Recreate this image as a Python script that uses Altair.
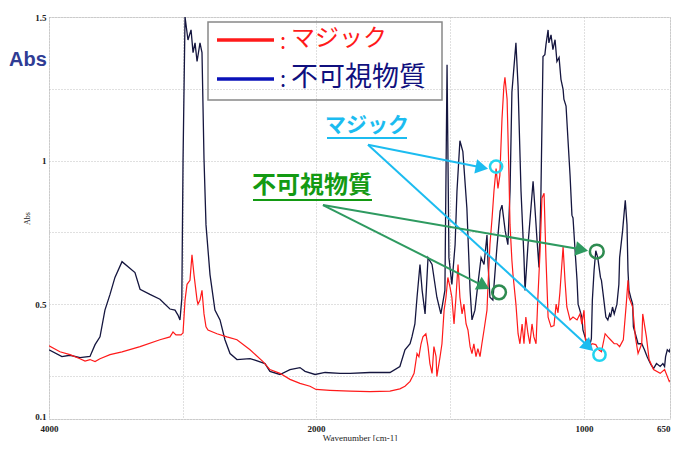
import altair as alt
import pandas as pd

# ---- spectrum data (wavenumber cm-1, Abs) ----
navy_wn = [4000, 3903, 3843, 3768, 3693, 3655, 3618, 3581, 3543, 3506,
           3453, 3356, 3318, 3244, 3169, 3094, 3056, 3034, 3019, 3005,
           2996, 2981, 2959, 2936, 2921, 2906, 2891, 2869, 2854, 2839,
           2824, 2794, 2757, 2719, 2682, 2644, 2592, 2494, 2457, 2382,
           2345, 2270, 2195, 2120, 2082, 2007, 1966, 1910, 1873, 1799,
           1724, 1687, 1668, 1649, 1642, 1631, 1623, 1612, 1604, 1593,
           1582, 1567, 1549, 1534, 1519, 1511, 1504, 1493, 1481, 1474,
           1463, 1452, 1437, 1425, 1418, 1407, 1396, 1384, 1373, 1362,
           1358, 1351, 1340, 1325, 1313, 1306, 1294, 1284, 1276, 1269,
           1254, 1246, 1235, 1224, 1220, 1209, 1198, 1190, 1183, 1175,
           1168, 1161, 1153, 1146, 1142, 1134, 1131, 1123, 1116, 1108,
           1101, 1093, 1086, 1078, 1075, 1067, 1060, 1052, 1045, 1041,
           1034, 1026, 1022, 1008, 1004, 996, 989, 978, 970, 966,
           959, 952, 944, 933, 929, 922, 911, 903, 896, 892,
           884, 877, 866, 858, 855, 843, 836, 832, 825, 821,
           817, 810, 802, 799, 791, 780, 765, 754, 743, 728,
           717, 705, 690, 679, 672, 668, 661, 653, 650]
navy_abs = [0.341, 0.317, 0.322, 0.314, 0.318, 0.359, 0.386, 0.479, 0.534, 0.593,
            0.648, 0.610, 0.552, 0.534, 0.517, 0.483, 0.479, 0.462, 0.445, 0.520,
            1.000, 1.500, 1.420, 1.455, 1.376, 1.410, 1.345, 1.410, 1.376, 1.007,
            0.776, 0.603, 0.479, 0.445, 0.376, 0.328, 0.307, 0.310, 0.305, 0.293,
            0.266, 0.255, 0.272, 0.279, 0.266, 0.255, 0.262, 0.259, 0.259, 0.262,
            0.262, 0.283, 0.341, 0.362, 0.386, 0.431, 0.524, 0.638, 0.548, 0.466,
            0.662, 0.638, 0.524, 0.466, 0.548, 1.334, 0.662, 0.569, 0.707, 0.893,
            1.069, 1.031, 0.834, 0.548, 0.445, 0.479, 0.569, 0.662, 0.638, 0.741,
            0.638, 0.524, 0.514, 0.697, 0.824, 0.845, 0.755, 0.707, 0.893, 1.238,
            1.410, 1.259, 0.893, 0.662, 0.548, 0.707, 0.834, 0.928, 0.834, 0.720,
            0.628, 0.869, 1.362, 1.369, 1.403, 1.455, 1.410, 1.438, 1.386, 1.421,
            1.345, 1.359, 1.283, 1.248, 1.214, 1.190, 1.076, 0.948, 0.810, 0.800,
            0.697, 0.583, 0.500, 0.455, 0.410, 0.386, 0.369, 0.352, 0.380, 0.514,
            0.617, 0.686, 0.662, 0.593, 0.583, 0.534, 0.455, 0.445, 0.466, 0.455,
            0.490, 0.466, 0.500, 0.569, 0.662, 0.755, 0.824, 0.862, 0.776, 0.617,
            0.548, 0.524, 0.500, 0.421, 0.397, 0.362, 0.362, 0.341, 0.317, 0.290,
            0.276, 0.293, 0.283, 0.293, 0.283, 0.317, 0.341, 0.334, 0.345]

red_wn = [4000, 3918, 3843, 3768, 3730, 3693, 3655, 3618, 3543, 3453,
          3318, 3169, 3094, 3071, 3049, 3011, 2996, 2981, 2966, 2944,
          2929, 2914, 2891, 2884, 2869, 2854, 2839, 2824, 2809, 2742,
          2667, 2592, 2494, 2397, 2345, 2270, 2195, 2120, 2045, 2000,
          1948, 1873, 1799, 1724, 1687, 1668, 1649, 1634, 1623, 1616,
          1608, 1601, 1590, 1582, 1575, 1567, 1560, 1552, 1549, 1537,
          1530, 1522, 1515, 1508, 1500, 1493, 1485, 1478, 1470, 1463,
          1455, 1448, 1440, 1433, 1425, 1418, 1411, 1403, 1396, 1388,
          1381, 1373, 1362, 1358, 1351, 1343, 1336, 1328, 1321, 1314,
          1306, 1299, 1295, 1287, 1280, 1276, 1269, 1265, 1254, 1246,
          1239, 1231, 1224, 1217, 1209, 1202, 1194, 1187, 1179, 1172,
          1164, 1157, 1149, 1142, 1134, 1123, 1112, 1104, 1097, 1090,
          1078, 1071, 1064, 1052, 1041, 1026, 1015, 1008, 1000, 992,
          978, 967, 952, 940, 929, 914, 903, 892, 877, 866,
          855, 840, 828, 821, 817, 802, 791, 780, 765, 761,
          746, 735, 717, 690, 672, 653, 650]
red_abs = [0.355, 0.334, 0.324, 0.310, 0.302, 0.307, 0.300, 0.310, 0.324, 0.334,
           0.352, 0.376, 0.386, 0.403, 0.393, 0.393, 0.400, 0.514, 0.569, 0.583,
           0.672, 0.603, 0.514, 0.500, 0.514, 0.548, 0.466, 0.421, 0.410, 0.397,
           0.386, 0.376, 0.341, 0.300, 0.272, 0.259, 0.238, 0.224, 0.214, 0.203,
           0.200, 0.197, 0.195, 0.197, 0.205, 0.214, 0.231, 0.259, 0.328, 0.317,
           0.362, 0.386, 0.397, 0.352, 0.293, 0.259, 0.352, 0.317, 0.248, 0.317,
           0.362, 0.479, 0.524, 0.593, 0.559, 0.524, 0.431, 0.520, 0.638, 0.524,
           0.466, 0.500, 0.431, 0.410, 0.352, 0.328, 0.362, 0.317, 0.345, 0.317,
           0.362, 0.410, 0.479, 0.569, 0.707, 0.800, 0.893, 0.972, 0.903, 0.948,
           1.145, 1.259, 1.290, 1.214, 0.948, 0.776, 0.652, 0.603, 0.500, 0.397,
           0.362, 0.431, 0.362, 0.455, 0.397, 0.362, 0.431, 0.386, 0.362, 0.524,
           0.683, 0.869, 0.886, 0.662, 0.455, 0.421, 0.425, 0.500, 0.470, 0.540,
           0.700, 0.583, 0.490, 0.445, 0.455, 0.445, 0.466, 0.430, 0.479, 0.350,
           0.352, 0.362, 0.359, 0.341, 0.334, 0.397, 0.386, 0.376, 0.362, 0.362,
           0.352, 0.376, 0.500, 0.583, 0.524, 0.490, 0.386, 0.328, 0.362, 0.466,
           0.386, 0.307, 0.272, 0.259, 0.272, 0.231, 0.235]

# ---- annotation anchors (data coordinates) ----
cyan_circle_wn = [1328, 937]
cyan_circle_abs = [0.979, 0.324]
green_circle_wn = [948, 1317]
green_circle_abs = [0.683, 0.541]
cyan_arrow_wn = [1806, 1806]
cyan_arrow_abs = [1.055, 1.055]
cyan_head_wn = [1381, 981]
cyan_head_abs = [0.976, 0.352]
green_arrow_wn = [1974, 1974]
green_arrow_abs = [0.845, 0.845]
green_head_wn = [1008, 1374]
green_head_abs = [0.690, 0.563]

NAVY = "#15163f"
RED = "#ff1a1a"
CYAN = "#1cbcf0"
CYAN2 = "#22d4f0"
GREEN_T = "#139a13"
GREEN_A = "#2e9a60"
SERIF = "Liberation Serif"
JP = "Noto Sans CJK JP"

navy_df = pd.DataFrame({"wn": navy_wn, "abs": navy_abs})
red_df = pd.DataFrame({"wn": red_wn, "abs": red_abs})

# FT-IR style axis: the scale doubles below 2000 cm-1
xscale = alt.Scale(domain=[4000, 2000, 1000, 650], range=[0, 267, 535, 621], zero=False, nice=False)
yscale = alt.Scale(domain=[0.1, 1.5], zero=False, nice=False)

xaxis = alt.Axis(
    values=[4000, 3000, 2000, 1500, 1000, 650],
    labelExpr="indexof([4000, 2000, 1000, 650], datum.value) >= 0 ? format(datum.value, 'd') : ''",
    labelAlign=alt.condition("datum.value == 650", alt.value("right"), alt.value("center")),
    title="Wavenumber [cm-1]", grid=True, ticks=False, domain=False,
    labelFont=SERIF, labelFontSize=9, labelFontWeight="bold", labelColor="#222",
    titleFont=SERIF, titleFontSize=9, titleFontWeight="normal", titleColor="#222",
    labelPadding=5, titlePadding=0, labelOverlap=False, labelFlush=False,
    gridDash=[1, 2], gridColor="#b0b0b0", gridWidth=0.8,
)
yaxis = alt.Axis(
    values=[0.1, 0.25, 0.5, 0.75, 1, 1.25, 1.5],
    labelExpr="indexof([0.1, 0.5, 1, 1.5], datum.value) >= 0 ? format(datum.value, '~g') : ''",
    labelBaseline=alt.condition("datum.value == 0.1", alt.value("alphabetic"), alt.value("middle")),
    title="Abs", grid=True, ticks=False, domain=False,
    labelFont=SERIF, labelFontSize=9, labelFontWeight="bold", labelColor="#222",
    titleFont=SERIF, titleFontSize=8, titleFontWeight="normal", titleColor="#222",
    labelPadding=3, titlePadding=3, labelOverlap=False,
    gridDash=[1, 2], gridColor="#b0b0b0", gridWidth=0.8,
)

X = alt.X("wn:Q", scale=xscale, axis=xaxis)
Y = alt.Y("abs:Q", scale=yscale, axis=yaxis)

navy_line = alt.Chart(navy_df).mark_line(color=NAVY, strokeWidth=1.3, clip=True).encode(x=X, y=Y)
red_line = alt.Chart(red_df).mark_line(color=RED, strokeWidth=1.2, clip=True).encode(x=X, y=Y)

one = pd.DataFrame({"k": [0]})

# legend box
legend_box = alt.Chart(one).mark_rect(filled=False, stroke="#888888", strokeWidth=1.5).encode(
    x=alt.value(159), x2=alt.value(393), y=alt.value(5), y2=alt.value(83))
leg_red = alt.Chart(one).mark_rule(color=RED, strokeWidth=3.5).encode(
    x=alt.value(168), x2=alt.value(225), y=alt.value(23))
leg_blue = alt.Chart(one).mark_rule(color="#0a12b8", strokeWidth=3.5).encode(
    x=alt.value(168), x2=alt.value(225), y=alt.value(62))
leg_red_colon = alt.Chart(one).mark_text(text=":", font=JP, fontSize=22, color=RED, align="left", baseline="middle").encode(
    x=alt.value(231), y=alt.value(25))
leg_red_txt = alt.Chart(one).mark_text(text="マジック", font=JP, fontSize=24, color=RED, align="left", baseline="middle").encode(
    x=alt.value(242), y=alt.value(22))
leg_blue_colon = alt.Chart(one).mark_text(text=":", font=JP, fontSize=22, color="#10107e", align="left", baseline="middle").encode(
    x=alt.value(231), y=alt.value(63))
leg_blue_txt = alt.Chart(one).mark_text(text="不可視物質", font=JP, fontSize=27, color="#10107e", align="left", baseline="middle").encode(
    x=alt.value(242), y=alt.value(61))

big_abs = alt.Chart(one).mark_text(text="Abs", font="Liberation Sans", fontSize=20, fontWeight="bold",
                                   color="#2f3c94", align="left", baseline="middle").encode(
    x=alt.value(-40), y=alt.value(43))

cyan_txt = alt.Chart(one).mark_text(text="マジック", font=JP, fontSize=21, fontWeight="bold", color=CYAN,
                                    align="center", baseline="middle").encode(x=alt.value(318), y=alt.value(109))
cyan_ul = alt.Chart(one).mark_rule(color=CYAN, strokeWidth=2).encode(x=alt.value(278), x2=alt.value(358), y=alt.value(121))
green_txt = alt.Chart(one).mark_text(text="不可視物質", font=JP, fontSize=24, fontWeight="bold", color=GREEN_T,
                                     align="center", baseline="middle").encode(x=alt.value(263), y=alt.value(169))
green_ul = alt.Chart(one).mark_rule(color=GREEN_T, strokeWidth=2).encode(x=alt.value(204), x2=alt.value(323), y=alt.value(183))

# arrows (data coordinates)
cyan_arr_df = pd.DataFrame({"wn": cyan_arrow_wn, "abs": cyan_arrow_abs, "wn2": cyan_head_wn, "abs2": cyan_head_abs})
green_arr_df = pd.DataFrame({"wn": green_arrow_wn, "abs": green_arrow_abs, "wn2": green_head_wn, "abs2": green_head_abs})

cyan_arr = alt.Chart(cyan_arr_df).mark_rule(color=CYAN, strokeWidth=2).encode(x=X, y=Y, x2="wn2:Q", y2="abs2:Q")
green_arr = alt.Chart(green_arr_df).mark_rule(color=GREEN_A, strokeWidth=2).encode(x=X, y=Y, x2="wn2:Q", y2="abs2:Q")


def head(wn, ab, ang, col):
    d = pd.DataFrame({"wn": [wn], "abs": [ab]})
    return alt.Chart(d).mark_point(shape="triangle-right", filled=True, size=210, angle=ang,
                                   color=col, opacity=1, strokeWidth=0).encode(x=X, y=Y)


heads = [
    head(cyan_head_wn[0], cyan_head_abs[0], 11, CYAN),
    head(cyan_head_wn[1], cyan_head_abs[1], 43, CYAN),
    head(green_head_wn[0], green_head_abs[0], 10, GREEN_A),
    head(green_head_wn[1], green_head_abs[1], 28, GREEN_A),
]

cyan_c = alt.Chart(pd.DataFrame({"wn": cyan_circle_wn, "abs": cyan_circle_abs})).mark_point(
    shape="circle", filled=False, size=150, strokeWidth=2.5, color=CYAN2, opacity=1).encode(x=X, y=Y)
green_c = alt.Chart(pd.DataFrame({"wn": green_circle_wn, "abs": green_circle_abs})).mark_point(
    shape="circle", filled=False, size=190, strokeWidth=2.5, color="#2e8b50", opacity=1).encode(x=X, y=Y)

chart = alt.layer(
    navy_line, red_line,
    legend_box, leg_red, leg_blue, leg_red_colon, leg_red_txt, leg_blue_colon, leg_blue_txt,
    big_abs, cyan_txt, cyan_ul, green_txt, green_ul,
    cyan_arr, green_arr, *heads, cyan_c, green_c,
).properties(
    width=621, height=402,
    autosize=alt.AutoSizeParams(type="none"),
    padding={"left": 41, "top": 9, "right": 5, "bottom": 22},
).configure_view(stroke="#8a8a8a", strokeWidth=1.2).configure(background="white")

chart.save("out.html", embed_options={"renderer": "svg", "actions": False})
